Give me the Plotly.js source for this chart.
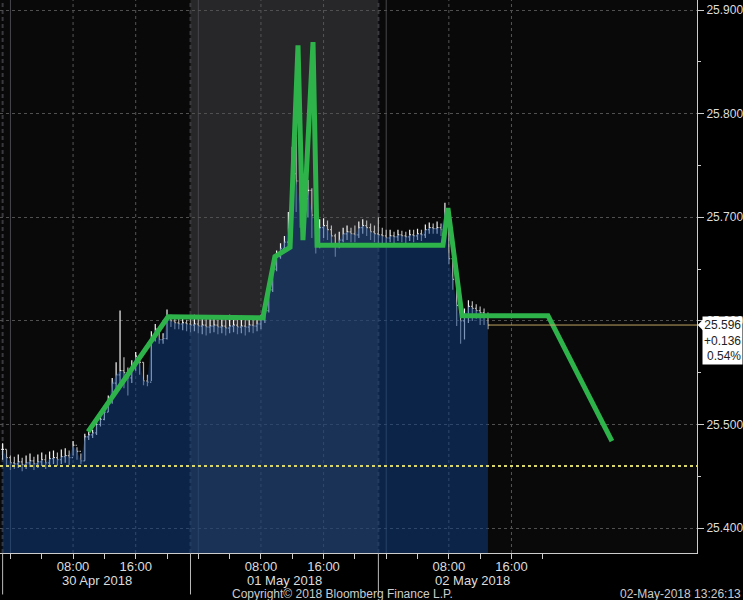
<!DOCTYPE html>
<html><head><meta charset="utf-8">
<script src="https://cdn.plot.ly/plotly-3.0.1.min.js"></script>
<style>html,body{margin:0;padding:0;background:#000;}#chart{width:743px;height:600px;}</style>
</head><body><div id="chart"></div>
<script>
// ---- data ----
const seriesStart = '2018-04-29 23:00';
const stepMinutes = 30;
const closes = [
25.476,25.468,25.463,25.462,25.464,25.461,25.463,25.465,25.462,25.464,25.466,25.463,25.467,25.468,25.466,25.469,25.470,25.468,
25.480,25.474,25.465,25.488,25.490,25.492,25.500,25.505,25.512,25.522,25.540,25.548,25.552,25.550,25.545,25.556,25.566,25.560,25.542,25.541,25.582,25.592,25.582,25.583,25.602,25.600,25.598,25.597,25.598,25.597,25.596,
25.597,25.595,25.596,25.594,25.595,25.596,25.594,25.595,25.593,25.595,25.596,25.594,25.595,25.594,25.596,25.595,25.597,25.601,
25.610,25.630,25.650,25.662,25.670,25.676,25.690,25.742,25.735,25.712,25.718,25.726,25.702,25.682,25.690,25.692,25.688,25.682,25.672,25.678,25.684,25.686,25.684,25.683,25.690,25.692,25.690,25.686,25.684,25.683,
25.682,25.680,25.682,25.681,25.683,25.682,25.681,25.683,25.682,25.684,25.683,25.688,25.690,25.689,25.690,25.688,25.705,25.660,25.640,25.615,25.600,25.604,25.614,25.612,25.610,25.608,25.606,25.596];
const highs = [
25.482,25.476,25.470,25.469,25.471,25.468,25.470,25.472,25.469,25.471,25.473,25.471,25.474,25.475,25.473,25.476,25.477,25.475,
25.484,25.478,25.472,25.491,25.493,25.495,25.503,25.510,25.516,25.528,25.545,25.560,25.610,25.565,25.555,25.562,25.570,25.568,25.560,25.548,25.590,25.597,25.590,25.588,25.611,25.606,25.603,25.602,25.602,25.601,25.602,
25.606,25.603,25.604,25.602,25.603,25.605,25.601,25.604,25.603,25.606,25.604,25.603,25.605,25.602,25.604,25.603,25.603,25.606,
25.614,25.636,25.656,25.668,25.675,25.682,25.705,25.768,25.778,25.745,25.740,25.736,25.728,25.700,25.698,25.699,25.697,25.692,25.684,25.686,25.690,25.692,25.690,25.692,25.696,25.698,25.697,25.694,25.692,25.700,
25.690,25.688,25.688,25.686,25.688,25.687,25.686,25.688,25.688,25.689,25.688,25.693,25.695,25.694,25.696,25.694,25.714,25.700,25.660,25.640,25.615,25.612,25.620,25.619,25.616,25.614,25.612,25.608];
const lows = [
25.466,25.460,25.456,25.457,25.458,25.455,25.457,25.459,25.456,25.458,25.460,25.457,25.461,25.462,25.460,25.462,25.463,25.461,
25.470,25.466,25.462,25.465,25.485,25.487,25.490,25.498,25.504,25.512,25.520,25.535,25.540,25.535,25.528,25.540,25.552,25.548,25.538,25.537,25.542,25.580,25.578,25.578,25.582,25.594,25.592,25.592,25.591,25.590,25.589,
25.590,25.588,25.587,25.586,25.588,25.589,25.587,25.588,25.586,25.588,25.589,25.587,25.588,25.586,25.589,25.588,25.590,25.592,
25.598,25.608,25.628,25.648,25.660,25.668,25.672,25.688,25.705,25.690,25.680,25.700,25.680,25.665,25.670,25.680,25.678,25.672,25.662,25.670,25.676,25.678,25.676,25.676,25.680,25.684,25.682,25.678,25.676,25.674,
25.675,25.674,25.676,25.674,25.677,25.676,25.675,25.677,25.676,25.678,25.677,25.680,25.684,25.684,25.684,25.682,25.686,25.655,25.630,25.595,25.578,25.582,25.598,25.600,25.602,25.596,25.596,25.592];

const trendTimes = ['2018-04-30 09:55','2018-04-30 20:08','2018-05-01 08:15','2018-05-01 09:47','2018-05-01 11:43','2018-05-01 12:44','2018-05-01 13:22','2018-05-01 14:39','2018-05-01 15:10','2018-05-02 07:15','2018-05-02 07:53','2018-05-02 09:41','2018-05-02 20:40','2018-05-03 04:50'];
const trendValues = [25.493,25.604,25.603,25.662,25.671,25.866,25.678,25.869,25.673,25.673,25.709,25.605,25.605,25.484];

const prevClose = 25.460;
const priceBoxLines = ['25.596','+0.136','0.54%'];

const tickTimes = ['2018-04-30 00:00','2018-04-30 04:00','2018-04-30 08:00','2018-04-30 12:00','2018-04-30 16:00','2018-04-30 20:00',
'2018-05-01 00:00','2018-05-01 04:00','2018-05-01 08:00','2018-05-01 12:00','2018-05-01 16:00','2018-05-01 20:00',
'2018-05-02 00:00','2018-05-02 04:00','2018-05-02 08:00','2018-05-02 12:00','2018-05-02 16:00','2018-05-02 20:00'];
const tickLabels = ['','','08:00','','16:00','','','','08:00','','16:00','','','','08:00','','16:00',''];
const gridTimes = ['2018-04-30 08:00','2018-04-30 16:00','2018-05-01 08:00','2018-05-01 16:00','2018-05-02 08:00','2018-05-02 16:00'];
const dayLabels = ['30 Apr 2018','01 May 2018','02 May 2018'];
const dayLabelTimes = ['2018-04-30 11:00','2018-05-01 11:00','2018-05-02 11:00'];
const sessionBreaks = ['2018-04-29 23:00','2018-04-30 23:00','2018-05-01 23:00'];
const midnights = ['2018-04-30 00:00','2018-05-01 00:00','2018-05-02 00:00'];
const xRange = ['2018-04-29 22:40','2018-05-03 15:42'];
const yRange = [25.376, 25.9097];
const copyrightText = 'Copyright\u00A9 2018 Bloomberg Finance L.P.';
const stampText = '02-May-2018 13:26:13';

// ---- build ----
function fmt(ms){ return new Date(ms).toISOString().slice(0,16).replace('T',' '); }
const base = Date.parse(seriesStart.replace(' ','T') + ':00Z');
const times = closes.map((_, i) => fmt(base + i * stepMinutes * 60000));
const opens = closes.map((c, i) => i === 0 ? c : closes[i-1]);
const lastTime = times[times.length-1];
const lastClose = closes[closes.length-1];

const traces = [
  {type:'scatter', mode:'lines', x:times, y:closes, fill:'tozeroy',
   fillcolor:'rgba(13,62,128,0.52)', line:{width:0, color:'rgba(0,0,0,0)'}, hoverinfo:'skip'},
  {type:'ohlc', x:times, open:opens, high:highs, low:lows, close:closes, tickwidth:0.35,
   increasing:{line:{color:'#f4f4f4', width:1.2}}, decreasing:{line:{color:'#b4b4b4', width:1.2}}, hoverinfo:'skip'},
  {type:'scatter', mode:'lines', x:trendTimes, y:trendValues,
   line:{color:'#2eb34b', width:5}, hoverinfo:'skip'}
];

const shapes = [];
shapes.push({type:'rect', xref:'x', yref:'paper', x0:sessionBreaks[1], x1:sessionBreaks[2], y0:0, y1:1,
  fillcolor:'#272629', line:{width:0}, layer:'below'});
gridTimes.forEach(t => shapes.push({type:'line', xref:'x', yref:'paper', x0:t, x1:t, y0:0, y1:1,
  line:{color:'#555', width:1, dash:'3px,3px'}, layer:'below'}));
midnights.forEach(t => shapes.push({type:'line', xref:'x', yref:'paper', x0:t, x1:t, y0:0, y1:1,
  line:{color:'#48484c', width:1}, layer:'below'}));
sessionBreaks.forEach(t => {
  shapes.push({type:'line', xref:'x', yref:'paper', x0:t, x1:t, y0:0, y1:1,
    line:{color:'#3a3a3e', width:2, dash:'4px,3px'}, layer:'below'});
  shapes.push({type:'line', xref:'x', yref:'paper', x0:t, x1:t, y0:0, y1:-0.075,
    line:{color:'#bbbbbb', width:1}, layer:'above'});
});
shapes.push({type:'line', xref:'paper', yref:'y', x0:0, x1:1, y0:prevClose, y1:prevClose,
  line:{color:'#d8d66c', width:2, dash:'dot'}, layer:'above'});
shapes.push({type:'line', xref:'x', yref:'y', x0:lastTime, x1:xRange[1], y0:lastClose, y1:lastClose,
  line:{color:'#c0a460', width:1}, layer:'above'});
shapes.push({type:'path', xref:'paper', yref:'y',
  path:`M 1.001,${lastClose} L 1.0105,${lastClose+0.0065} L 1.0105,${lastClose-0.0065} Z`,
  fillcolor:'#ffffff', line:{width:0}, layer:'above'});

const annotations = [];
dayLabels.forEach((d, i) => annotations.push({xref:'x', yref:'paper', x:dayLabelTimes[i], y:0, yanchor:'top',
  yshift:-18, text:d, showarrow:false, font:{size:13, color:'#dddddd'}}));
annotations.push({xref:'paper', yref:'paper', x:0.33, y:0, yanchor:'top', yshift:-32, text:copyrightText,
  showarrow:false, font:{size:12, color:'#cccccc'}});
annotations.push({xref:'paper', yref:'paper', x:1.066, xanchor:'right', y:0, yanchor:'top', yshift:-32, text:stampText,
  showarrow:false, font:{size:12, color:'#cccccc'}});
annotations.push({xref:'paper', yref:'y', x:1, xanchor:'left', xshift:5, y:lastClose, yanchor:'top', yshift:9,
  text:priceBoxLines.join('<br>'), align:'right', showarrow:false, bgcolor:'#ffffff', borderpad:1,
  font:{size:12, color:'#222222'}});

const layout = {
  width:743, height:600,
  margin:{l:0, r:46, t:0, b:47},
  paper_bgcolor:'#000000', plot_bgcolor:'#09090a',
  showlegend:false,
  font:{family:'"Liberation Sans", Arial, sans-serif', color:'#dddddd', size:12},
  xaxis:{type:'date', range:xRange, tickmode:'array', tickvals:tickTimes, ticktext:tickLabels,
    ticks:'outside', ticklen:5, tickcolor:'#cccccc', showgrid:false, zeroline:false,
    showline:true, linecolor:'#cccccc', linewidth:1, rangeslider:{visible:false}, ticklabelstandoff:-4,
    tickfont:{size:13, color:'#dddddd'}, fixedrange:true},
  yaxis:{side:'right', range:yRange, tickmode:'linear', tick0:25.4, dtick:0.1, tickformat:'.3f',
    ticks:'outside', ticklen:6, tickcolor:'#cccccc', showline:true, linecolor:'#cccccc', linewidth:1,
    showgrid:true, gridcolor:'#505050', griddash:'3px,3px', zeroline:false,
    minor:{dtick:0.05, ticks:'outside', ticklen:3, tickcolor:'#cccccc', showgrid:false},
    tickfont:{size:12, color:'#dddddd'}, fixedrange:true},
  shapes:shapes, annotations:annotations
};

Plotly.newPlot('chart', traces, layout, {displayModeBar:false, staticPlot:true});
</script></body></html>
